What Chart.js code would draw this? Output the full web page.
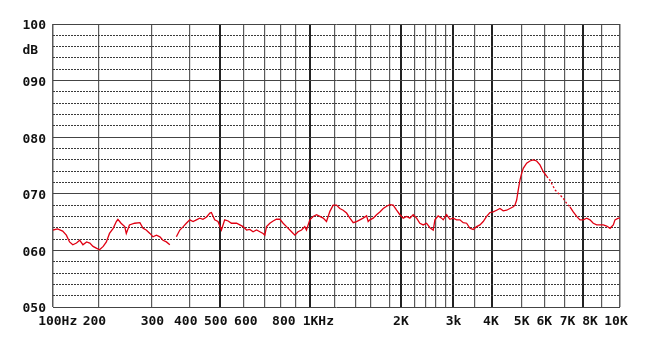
<!DOCTYPE html>
<html>
<head>
<meta charset="utf-8">
<script src="https://cdn.jsdelivr.net/npm/chart.js@4.4.1/dist/chart.umd.min.js"></script>
<style>
  html, body { margin: 0; padding: 0; background: #fff; }
  #wrap { width: 661px; height: 347px; }
</style>
</head>
<body>
<div id="wrap"><canvas id="fr"></canvas></div>
<script>
// measured response, Hz / dB
const freqHz = [
  100, 110, 121, 129, 136, 143, 151, 158, 165, 173,
  180, 187, 194, 201, 208, 214, 220, 227, 233, 236,
  242, 249, 252, 258, 268, 278, 284, 290, 297, 304,
  313, 322, 330, 339, 348, 356, 365, 374, 383, 391,
  400, 411, 422, 433, 444, 456, 467, 472, 483, 494,
  507, 521, 536, 550, 572, 586, 600, 616, 631, 646,
  662, 677, 692, 700, 711, 732, 753, 774, 796, 817,
  839, 861, 883, 894, 916, 941, 964, 976, 1000, 1027,
  1055, 1082, 1110, 1137, 1165, 1192, 1222, 1253, 1284, 1316,
  1347, 1378, 1413, 1457, 1501, 1547, 1568, 1591, 1627, 1662,
  1696, 1731, 1766, 1800, 1860, 1922, 1982, 2035, 2086, 2135,
  2185, 2241, 2297, 2354, 2414, 2483, 2551, 2586, 2650, 2716,
  2748, 2819, 2910, 3000, 3078, 3154, 3230, 3309, 3385, 3461,
  3550, 3647, 3744, 3844, 3941, 4044, 4158, 4269, 4380, 4495,
  4606, 4717, 4774, 4832, 4886, 4943, 5000, 5071, 5221, 5367,
  5513, 5664, 5810, 5956, 6116, 6275, 6517, 6758, 6918, 7093,
  7273, 7453, 7639, 7820, 8000, 8185, 8364, 8543, 8728, 8908,
  9087, 9273, 9454, 9634, 9727, 9907, 10000
];
const levelDb = [
  63.6, 63.8, 63.4, 62.7, 61.5, 61.0, 61.3, 61.8, 61.0, 61.5,
  61.3, 60.7, 60.4, 60.1, 60.7, 61.5, 63.0, 63.9, 65.1, 65.5,
  64.8, 64.2, 63.0, 64.5, 64.8, 64.9, 63.9, 63.6, 63.0, 62.4,
  62.7, 62.4, 61.8, 61.5, 61.0, null, 62.4, 63.6, 64.2, 64.8,
  65.4, 65.1, 65.4, 65.7, 65.5, 65.9, 66.6, 66.7, 65.4, 65.1,
  63.6, 65.4, 65.2, 64.8, 64.8, 64.5, 64.2, 63.6, 63.7, 63.3,
  63.6, 63.3, 63.0, 62.7, 64.2, 64.8, 65.2, 65.5, 65.5, 64.8,
  64.2, 63.6, 63.0, 62.7, 63.3, 63.6, 64.2, 63.6, 65.4, 66.0,
  66.3, 66.0, 65.7, 65.1, 66.9, 68.0, 68.0, 67.4, 67.1, 66.6,
  65.7, 64.9, 65.1, 65.4, 65.7, 66.1, 65.1, 65.4, 65.7, 66.3,
  66.8, 67.4, 67.8, 68.1, 68.0, 67.1, 66.3, 65.7, 66.0, 65.7,
  66.3, 65.7, 64.8, 64.5, 64.8, 64.0, 63.6, 65.4, 66.1, 65.7,
  65.4, 66.3, 65.5, 65.7, 65.4, 65.4, 64.9, 64.8, 63.9, 63.7,
  64.2, 64.5, 65.1, 66.0, 66.7, 66.8, 67.1, 67.4, 67.0, 67.1,
  67.4, 67.7, 68.0, 68.9, 70.7, 72.4, 73.6, 74.5, 75.4, 75.8,
  76.0, 75.8, 75.1, 73.9, 73.1, 72.4, 70.7, 69.8, 69.2, 68.3,
  67.7, 66.8, 66.0, 65.4, 65.4, 65.7, 65.4, 64.8, 64.5, 64.5,
  64.5, 64.3, 63.9, 64.5, 65.4, 65.7, 65.7
];

// vertical grid lines of the chart paper and where they sit across the width
const gridHz  = [100, 200, 300, 400, 500, 600, 700, 800, 900, 1000, 1200, 1400, 1600, 1800, 2000,
                 2200, 2400, 2600, 2800, 3000, 3500, 4000, 5000, 6000, 7000, 8000, 9000, 10000];
const gridPos = [0, 46, 98.4, 136.7, 166.7, 190, 211.7, 227.4, 242.7, 256.7, 281, 302.4, 317.4, 336.7, 347.7,
                 361, 372.7, 382.4, 392.7, 400, 421.7, 438.7, 468.4, 491, 511.7, 530, 548.4, 566.7];
const heavyHz = [500, 1000, 2000, 3000, 4000, 8000];

const xTickHz    = [100, 200, 300, 400, 500, 600, 800, 1000, 2000, 3000, 4000, 5000, 6000, 7000, 8000, 10000];
const xTickText  = ['100Hz', '200', '300', '400', '500', '600', '800', '1KHz', '2K', '3k', '4K', '5K', '6K', '7K', '8K', '10K'];
const xTickNudge = [4.7, -4.6, 1, -4, -4, 2.7, 3.3, 8.5, 0, 0.4, -1, 0, 0, 2.5, 6.7, -4]; // label shift, px

const dbMin = 50, dbMax = 100, dbStep = 2;
const unitPos = 95.6; // where the "dB" caption sits

const lastG = gridHz.length - 1;
function posOfHz(f) {
  f = Math.min(Math.max(f, gridHz[0]), gridHz[lastG]);
  let i = 0;
  while (i < lastG - 1 && f > gridHz[i + 1]) i++;
  const t = (f - gridHz[i]) / (gridHz[i + 1] - gridHz[i]);
  return gridPos[i] + t * (gridPos[i + 1] - gridPos[i]);
}
function hzOfPos(p) {
  p = Math.min(Math.max(p, gridPos[0]), gridPos[lastG]);
  let i = 0;
  while (i < lastG - 1 && p > gridPos[i + 1]) i++;
  const t = (p - gridPos[i]) / (gridPos[i + 1] - gridPos[i]);
  return gridHz[i] + t * (gridHz[i + 1] - gridHz[i]);
}

// frequency axis of the paper: piecewise between the printed grid lines
class FreqScale extends Chart.LinearScale {
  getPixelForValue(value) {
    return this.left + posOfHz(value) / gridPos[lastG] * this.width;
  }
  getValueForPixel(pixel) {
    return hzOfPos((pixel - this.left) / this.width * gridPos[lastG]);
  }
}
FreqScale.id = 'freq';
Chart.register(FreqScale);

const tickFont = { family: 'DejaVu Sans Mono', weight: 'bold', size: 13 };

new Chart(document.getElementById('fr'), {
  type: 'line',
  data: {
    datasets: [{
      data: freqHz.map((f, i) => ({ x: f, y: levelDb[i] })),
      borderColor: '#e00012',
      borderWidth: 1.3,
      pointRadius: 0,
      tension: 0,
      spanGaps: false,
      segment: {
        // the falling slope after the 5.5K peak is drawn broken
        borderDash: ctx => (ctx.p0.parsed.x >= 6100 && ctx.p1.parsed.x <= 7300) ? [2, 2] : undefined
      }
    }]
  },
  options: {
    responsive: true,
    maintainAspectRatio: false,
    animation: false,
    events: [],
    layout: { padding: { top: 24, right: 41, left: 0, bottom: 0 } },
    plugins: { legend: { display: false }, tooltip: { enabled: false } },
    scales: {
      x: {
        type: 'freq',
        min: gridHz[0],
        max: gridHz[lastG],
        afterBuildTicks: scale => { scale.ticks = gridHz.map(v => ({ value: v })); },
        afterFit: scale => { scale.height = 0; },
        border: { display: false },
        grid: {
          drawTicks: false,
          color: ctx => {
            const v = ctx.tick && ctx.tick.value;
            return heavyHz.includes(v) ? '#222' : '#5a5a5a';
          },
          lineWidth: ctx => {
            const v = ctx.tick && ctx.tick.value;
            if (heavyHz.includes(v)) return 2;
            if (v === gridHz[0] || v === gridHz[lastG]) return 1.5;
            return 1.2;
          }
        },
        ticks: { display: false, autoSkip: false }
      },
      xl: {
        type: 'freq',
        position: 'bottom',
        min: gridHz[0],
        max: gridHz[lastG],
        afterBuildTicks: scale => {
          scale.ticks = xTickHz.map((f, i) => ({ value: hzOfPos(posOfHz(f) + xTickNudge[i]) }));
        },
        afterFit: scale => { scale.height = 40; },
        border: { display: false },
        grid: { display: false, drawTicks: false },
        ticks: {
          autoSkip: false,
          maxRotation: 0,
          padding: 7,
          color: '#111',
          font: tickFont,
          callback: (value, index) => xTickText[index]
        }
      },
      y: {
        min: dbMin,
        max: dbMax,
        afterBuildTicks: scale => {
          const t = [];
          for (let v = dbMin; v <= dbMax; v += dbStep) t.push(v);
          t.push(unitPos);
          t.sort((a, b) => a - b);
          scale.ticks = t.map(v => ({ value: v }));
        },
        afterFit: scale => { scale.width = 53; },
        border: {
          display: false,
          dash: ctx => (ctx.tick && ctx.tick.value % 10 !== 0) ? [2, 1] : []
        },
        grid: {
          drawTicks: false,
          lineWidth: 1,
          color: ctx => {
            const v = ctx.tick && ctx.tick.value;
            if (v === unitPos) return 'rgba(0,0,0,0)';
            return v % 10 === 0 ? '#444' : '#3a3a3a';
          }
        },
        ticks: {
          autoSkip: false,
          padding: 7,
          labelOffset: 2,
          color: '#111',
          font: tickFont,
          callback: value => {
            if (value === unitPos) return 'dB ';
            return value % 10 === 0 ? String(value).padStart(3, '0') : '';
          }
        }
      }
    }
  }
});
</script>
</body>
</html>
